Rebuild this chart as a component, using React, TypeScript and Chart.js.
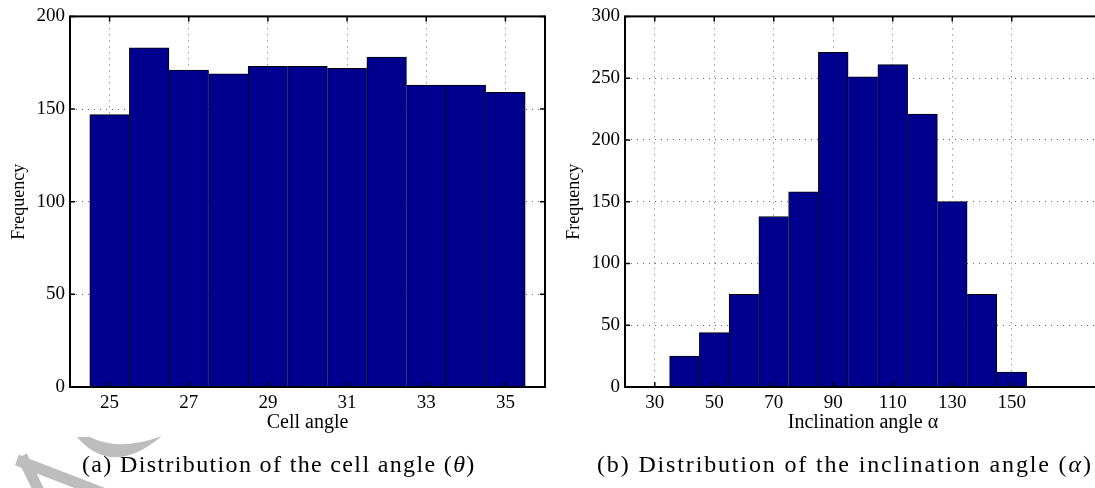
import { useEffect, useRef } from "react";
import { Chart, registerables } from "chart.js";

Chart.register(...registerables);

// ---- data ----
const cellAngleBins = [25, 26, 27, 28, 29, 30, 31, 32, 33, 34, 35];
const cellAngleCounts = [147, 183, 171, 169, 173, 173, 172, 178, 163, 163, 159];
const cellAngleXTicks = [25, 27, 29, 31, 33, 35];
const cellAngleYTicks = [0, 50, 100, 150, 200];

const inclinationBins = [30, 40, 50, 60, 70, 80, 90, 100, 110, 120, 130, 140, 150, 160, 170];
const inclinationCounts = [0, 25, 44, 75, 138, 158, 271, 251, 261, 221, 150, 75, 12, 0, 0];
const inclinationXTicks = [30, 50, 70, 90, 110, 130, 150];
const inclinationYTicks = [0, 50, 100, 150, 200, 250, 300];

const SERIF = "'Liberation Serif', 'Times New Roman', serif";
const BAR_COLOR = "#00008F";
const GRID_COLOR = "rgba(0,0,0,0.6)";

const framePlugin = {
  id: "matlabFrame",
  afterDatasetsDraw(chart: any) {
    const { ctx, chartArea: a, scales } = chart;
    const tl = 5;
    ctx.save();
    ctx.strokeStyle = "#000";
    ctx.lineWidth = 1.5;
    ctx.beginPath();
    for (const t of scales.x.ticks) {
      const px = scales.x.getPixelForValue(t.value);
      ctx.moveTo(px, a.bottom);
      ctx.lineTo(px, a.bottom - tl);
      ctx.moveTo(px, a.top);
      ctx.lineTo(px, a.top + tl);
    }
    for (const t of scales.y.ticks) {
      const py = scales.y.getPixelForValue(t.value);
      ctx.moveTo(a.left, py);
      ctx.lineTo(a.left + tl, py);
      ctx.moveTo(a.right, py);
      ctx.lineTo(a.right - tl, py);
    }
    ctx.stroke();
    ctx.lineWidth = 2;
    ctx.strokeRect(a.left, a.top, a.right - a.left, a.bottom - a.top);
    ctx.restore();
  },
};

const watermarkPlugin = {
  id: "watermark",
  beforeDraw(chart: any) {
    const ctx = chart.ctx;
    ctx.save();
    ctx.fillStyle = "#bdbdbd";
    ctx.strokeStyle = "#bdbdbd";
    ctx.beginPath();
    ctx.moveTo(77, 437);
    ctx.quadraticCurveTo(112, 478, 162, 436);
    ctx.quadraticCurveTo(118, 452, 90, 437);
    ctx.closePath();
    ctx.fill();
    ctx.lineWidth = 11;
    ctx.lineCap = "butt";
    ctx.beginPath();
    ctx.moveTo(17, 460);
    ctx.lineTo(108, 495);
    ctx.moveTo(22, 456);
    ctx.lineTo(41, 495);
    ctx.stroke();
    ctx.restore();
  },
};

function makeConfig(
  bins: number[],
  counts: number[],
  xTicks: number[],
  yTicks: number[],
  xMin: number,
  xMax: number,
  yMax: number,
  xTitle: string,
  padRight: number,
  extraPlugins: any[]
): any {
  return {
    type: "bar",
    data: {
      datasets: [
        {
          data: bins.map((b, i) => ({ x: b, y: counts[i] })),
          backgroundColor: BAR_COLOR,
          borderColor: "#000",
          borderSkipped: false,
          borderWidth: (c: any) => {
            const i = c.dataIndex;
            const v = counts[i];
            const prev = i > 0 ? counts[i - 1] : -1;
            const next = i < counts.length - 1 ? counts[i + 1] : -1;
            return { top: 1, bottom: 0, left: prev <= v ? 1 : 0, right: next < v ? 1 : 0 };
          },
          categoryPercentage: 1,
          barPercentage: 1,
        },
      ],
    },
    options: {
      animation: false,
      responsive: false,
      devicePixelRatio: 1,
      layout: { padding: { left: 0, top: 14, right: padRight, bottom: 51 } },
      plugins: {
        legend: { display: false },
        tooltip: { enabled: false },
        title: { display: false },
      },
      scales: {
        x: {
          type: "linear",
          min: xMin,
          max: xMax,
          offset: false,
          grid: { offset: false, drawTicks: false, color: GRID_COLOR, lineWidth: 1 },
          border: { display: false, dash: [1, 5] },
          ticks: {
            padding: 5,
            color: "#000",
            maxRotation: 0,
            autoSkip: false,
            font: { family: SERIF, size: 19 },
          },
          afterBuildTicks: (s: any) => {
            s.ticks = xTicks.map((v) => ({ value: v }));
          },
          afterFit: (s: any) => {
            s.height = 50;
          },
          title: {
            display: true,
            text: xTitle,
            color: "#000",
            font: { family: SERIF, size: 20 },
            padding: { top: 0, bottom: 2 },
          },
        },
        y: {
          type: "linear",
          min: 0,
          max: yMax,
          grid: { drawTicks: false, color: GRID_COLOR, lineWidth: 1 },
          border: { display: false, dash: [1, 5] },
          ticks: {
            padding: 5,
            color: "#000",
            autoSkip: false,
            font: { family: SERIF, size: 19 },
          },
          afterBuildTicks: (s: any) => {
            s.ticks = yTicks.map((v) => ({ value: v }));
          },
          afterFit: (s: any) => {
            s.width = 70;
          },
          title: {
            display: true,
            text: "Frequency",
            color: "#000",
            font: { family: SERIF, size: 18 },
            padding: { top: 8, bottom: 0 },
          },
        },
      },
    },
    plugins: [framePlugin, ...extraPlugins],
  };
}

const captionStyle: any = {
  position: "absolute",
  top: 451,
  fontFamily: SERIF,
  fontSize: 24,
  lineHeight: "27px",
  whiteSpace: "nowrap",
  color: "#000",
};

export default function App() {
  const leftRef = useRef<HTMLCanvasElement>(null);
  const rightRef = useRef<HTMLCanvasElement>(null);

  useEffect(() => {
    const c1 = new Chart(
      leftRef.current!,
      makeConfig(cellAngleBins, cellAngleCounts, cellAngleXTicks, cellAngleYTicks, 24, 36, 200, "Cell angle", 15, [watermarkPlugin])
    );
    const c2 = new Chart(
      rightRef.current!,
      makeConfig(inclinationBins, inclinationCounts, inclinationXTicks, inclinationYTicks, 20, 180, 300, "Inclination angle α", 14, [])
    );
    return () => {
      c1.destroy();
      c2.destroy();
    };
  }, []);

  return (
    <div
      style={{
        position: "fixed",
        left: 0,
        top: 0,
        width: 1095,
        height: 488,
        overflow: "hidden",
        background: "#fff",
      }}
    >
      <canvas
        ref={leftRef}
        width={560}
        height={488}
        style={{ position: "absolute", left: 0, top: 0, width: 560, height: 488 }}
      />
      <canvas
        ref={rightRef}
        width={560}
        height={488}
        style={{ position: "absolute", left: 555, top: 0, width: 560, height: 488 }}
      />
      <div style={{ ...captionStyle, left: 82, letterSpacing: "1.35px" }}>
        (a) Distribution of the cell angle (<i>θ</i>)
      </div>
      <div style={{ ...captionStyle, left: 597, letterSpacing: "1.85px" }}>
        (b) Distribution of the inclination angle (<i>α</i>)
      </div>
    </div>
  );
}
